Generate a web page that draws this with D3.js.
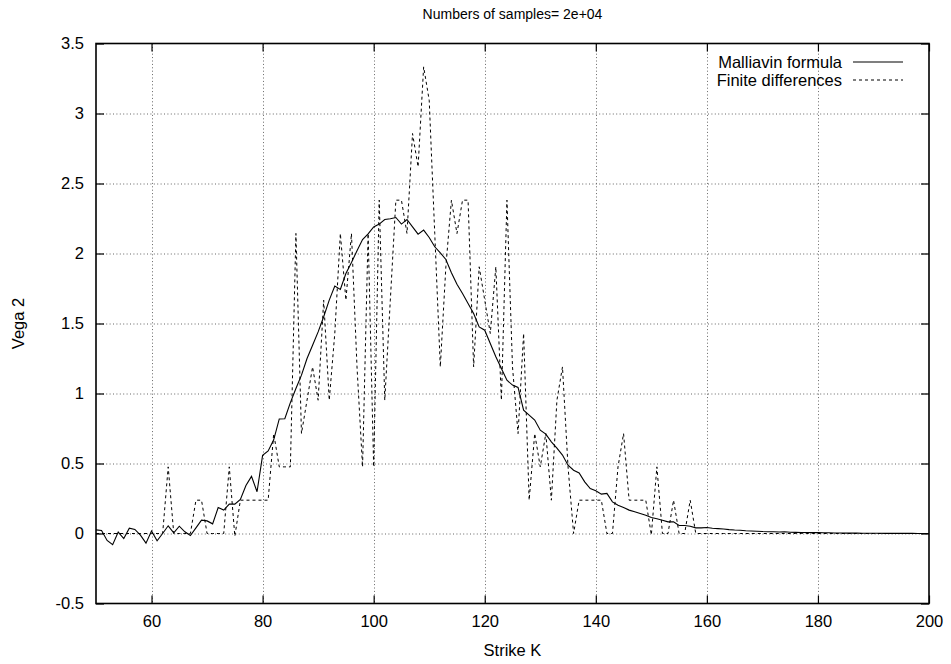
<!DOCTYPE html>
<html>
<head>
<meta charset="utf-8">
<script src="https://cdn.jsdelivr.net/npm/d3@7"></script>
<style>
  html, body { margin: 0; padding: 0; background: #fff; }
  svg text { font-family: "Liberation Sans", Arial, Helvetica, sans-serif; fill: #000; }
</style>
</head>
<body>
<svg id="chart" width="951" height="664"></svg>
<script>
const titleText = "Numbers of samples= 2e+04";
const xLabel = "Strike K";
const yLabel = "Vega 2";
const seriesNames = ["Malliavin formula", "Finite differences"];

const xTicks = [60, 80, 100, 120, 140, 160, 180, 200];
const yTicks = [-0.5, 0, 0.5, 1, 1.5, 2, 2.5, 3, 3.5];
const yTickLabels = ["-0.5", "0", "0.5", "1", "1.5", "2", "2.5", "3", "3.5"];

const strikes = [
  50, 51, 52, 53, 54, 55, 56, 57, 58, 59,
  60, 61, 62, 63, 64, 65, 66, 67, 68, 69,
  70, 71, 72, 73, 74, 75, 76, 77, 78, 79,
  80, 81, 82, 83, 84, 85, 86, 87, 88, 89,
  90, 91, 92, 93, 94, 95, 96, 97, 98, 99,
  100, 101, 102, 103, 104, 105, 106, 107, 108, 109,
  110, 111, 112, 113, 114, 115, 116, 117, 118, 119,
  120, 121, 122, 123, 124, 125, 126, 127, 128, 129,
  130, 131, 132, 133, 134, 135, 136, 137, 138, 139,
  140, 141, 142, 143, 144, 145, 146, 147, 148, 149,
  150, 151, 152, 153, 154, 155, 156, 157, 158, 159,
  160, 161, 162, 163, 164, 165, 166, 167, 168, 169,
  170, 171, 172, 173, 174, 175, 176, 177, 178, 179,
  180, 181, 182, 183, 184, 185, 186, 187, 188, 189,
  190, 191, 192, 193, 194, 195, 196, 197, 198, 199,
  200
];

const malliavin = [
  0.026, 0.022, -0.05, -0.08, 0.01, -0.036, 0.038, 0.029, -0.012, -0.069,
  0.018, -0.052, 0.0, 0.055, 0.005, 0.052, 0.012, -0.014, 0.04, 0.095,
  0.09, 0.069, 0.185, 0.167, 0.21, 0.21, 0.244, 0.343, 0.408, 0.298,
  0.558, 0.59, 0.669, 0.818, 0.82, 0.935, 1.036, 1.131, 1.25, 1.345,
  1.44, 1.548, 1.667, 1.767, 1.743, 1.857, 1.935, 2.02, 2.1, 2.14,
  2.19, 2.21, 2.243, 2.248, 2.257, 2.21, 2.243, 2.19, 2.138, 2.167,
  2.114, 2.048, 2.005, 1.957, 1.863, 1.78, 1.714, 1.643, 1.571, 1.476,
  1.452, 1.357, 1.262, 1.179, 1.095, 1.06, 1.043, 0.881, 0.845, 0.81,
  0.738, 0.71, 0.655, 0.61, 0.56, 0.488, 0.452, 0.433, 0.369, 0.321,
  0.305, 0.281, 0.286, 0.226, 0.202, 0.186, 0.167, 0.155, 0.143, 0.131,
  0.114, 0.105, 0.095, 0.083, 0.083, 0.057, 0.057, 0.052, 0.04, 0.04,
  0.043, 0.038, 0.035, 0.032, 0.028, 0.025, 0.023, 0.02, 0.018, 0.016,
  0.014, 0.013, 0.012, 0.011, 0.012, 0.009, 0.008, 0.007, 0.007, 0.006,
  0.006, 0.005, 0.005, 0.004, 0.004, 0.003, 0.003, 0.003, 0.002, 0.002,
  0.002, 0.002, 0.001, 0.001, 0.001, 0.001, 0.001, 0.001, 0.0, 0.0,
  0.0
];

const finiteDiff = [
  0, 0, 0, 0, 0, 0, 0, 0, 0, 0,
  0, 0, 0, 0.476, 0, 0, 0, 0, 0.238, 0.238,
  0, 0, 0, 0, 0.476, -0.02, 0.238, 0.238, 0.238, 0.238,
  0.238, 0.238, 0.714, 0.476, 0.476, 0.476, 2.143, 0.714, 0.952, 1.19,
  0.952, 1.667, 0.952, 1.429, 2.143, 1.667, 2.143, 1.19, 0.476, 2.143,
  0.476, 2.381, 0.952, 1.667, 2.381, 2.381, 2.143, 2.857, 2.619, 3.333,
  3.095, 2.143, 1.19, 1.905, 2.381, 2.143, 2.381, 2.381, 1.19, 1.905,
  1.667, 1.429, 1.905, 0.952, 2.381, 1.19, 0.714, 1.429, 0.238, 0.714,
  0.476, 0.714, 0.238, 0.952, 1.19, 0.476, 0, 0.238, 0.238, 0.238,
  0.238, 0.238, 0, 0, 0.476, 0.714, 0.238, 0.238, 0.238, 0.238,
  -0.01, 0.476, 0, 0, 0.238, 0, 0, 0.238, 0, 0,
  0, 0, 0, 0, 0, 0, 0, 0, 0, 0,
  0, 0, 0, 0, 0, 0, 0, 0, 0, 0,
  0, 0, 0, 0, 0, 0, 0, 0, 0, 0,
  0, 0, 0, 0, 0, 0, 0, 0, 0, 0,
  0
];

const W = 951, H = 664;
const margin = { left: 96, right: 22, top: 43.5, bottom: 60.5 };
const pw = W - margin.left - margin.right;
const ph = H - margin.top - margin.bottom;
const FS = 16.5;

const svg = d3.select("#chart");
const g = svg.append("g").attr("transform", `translate(${margin.left},${margin.top})`);

const x = d3.scaleLinear().domain([50, 200]).range([0, pw]);
const y = d3.scaleLinear().domain([-0.5, 3.5]).range([ph, 0]);

const gridStyle = sel => sel.attr("stroke", "#666").attr("stroke-width", 1).attr("stroke-dasharray", "1,2.4");

// grid
g.append("g").selectAll("line").data(xTicks.filter(t => t > 50 && t < 200)).join("line")
  .attr("x1", d => Math.round(x(d)) + 0.5).attr("x2", d => Math.round(x(d)) + 0.5)
  .attr("y1", 0).attr("y2", ph).call(gridStyle);
g.append("g").selectAll("line").data(yTicks.filter(t => t > -0.5 && t < 3.5)).join("line")
  .attr("y1", d => Math.round(y(d)) + 0.5).attr("y2", d => Math.round(y(d)) + 0.5)
  .attr("x1", 0).attr("x2", pw).call(gridStyle);

// axes (bottom/left with labels, inward ticks on all sides)
const tickLen = 8;
const xAxisB = d3.axisBottom(x).tickValues(xTicks).tickSize(-tickLen).tickPadding(12).tickFormat(d3.format("d"));
const xAxisT = d3.axisTop(x).tickValues(xTicks).tickSize(-tickLen).tickFormat("");
const yAxisL = d3.axisLeft(y).tickValues(yTicks).tickSize(-tickLen).tickPadding(12)
  .tickFormat((d, i) => yTickLabels[i]);
const yAxisR = d3.axisRight(y).tickValues(yTicks).tickSize(-tickLen).tickFormat("");

function styleAxis(sel) {
  sel.select(".domain").remove();
  sel.selectAll(".tick line").attr("stroke", "#000").attr("stroke-width", 1.2);
  sel.selectAll(".tick text").attr("font-family", "Liberation Sans, Arial, sans-serif").attr("font-size", FS).attr("fill", "#000");
}
g.append("g").attr("transform", `translate(0,${ph})`).call(xAxisB).call(styleAxis);
g.append("g").call(xAxisT).call(styleAxis);
g.append("g").call(yAxisL).call(styleAxis);
g.append("g").attr("transform", `translate(${pw},0)`).call(yAxisR).call(styleAxis);

// series
svg.append("defs").append("clipPath").attr("id", "clip")
  .append("rect").attr("width", pw).attr("height", ph);

const line = d3.line().x((d) => x(d[0])).y((d) => y(d[1]));
const fdData = strikes.map((k, i) => [k, finiteDiff[i]]);
const mfData = strikes.map((k, i) => [k, malliavin[i]]);

const plot = g.append("g").attr("clip-path", "url(#clip)");
plot.append("path").datum(fdData).attr("d", line)
  .attr("fill", "none").attr("stroke", "#000").attr("stroke-width", 1).attr("stroke-dasharray", "3,3");
plot.append("path").datum(mfData).attr("d", line)
  .attr("fill", "none").attr("stroke", "#000").attr("stroke-width", 1.1);

// border
g.append("rect").attr("x", 0).attr("y", 0).attr("width", pw).attr("height", ph)
  .attr("fill", "none").attr("stroke", "#000").attr("stroke-width", 1.6);

// legend
const legend = g.append("g");
const legY = [62 - margin.top, 80 - margin.top];
const dashes = [null, "3,3"];
seriesNames.forEach((name, i) => {
  legend.append("text").attr("x", 842 - margin.left).attr("y", legY[i]).attr("dy", "0.35em")
    .attr("text-anchor", "end").attr("font-size", FS).text(name);
  legend.append("line").attr("x1", 853 - margin.left).attr("x2", 903 - margin.left)
    .attr("y1", legY[i]).attr("y2", legY[i]).attr("stroke", "#000").attr("stroke-width", 1.1)
    .attr("stroke-dasharray", dashes[i]);
});

// titles
svg.append("text").attr("x", margin.left + pw / 2).attr("y", 19).attr("text-anchor", "middle")
  .attr("font-size", 14).text(titleText);
svg.append("text").attr("x", margin.left + pw / 2).attr("y", 656).attr("text-anchor", "middle")
  .attr("font-size", FS).text(xLabel);
svg.append("text").attr("transform", `translate(24,${margin.top + ph / 2}) rotate(-90)`)
  .attr("text-anchor", "middle").attr("font-size", FS).text(yLabel);
</script>
</body>
</html>
